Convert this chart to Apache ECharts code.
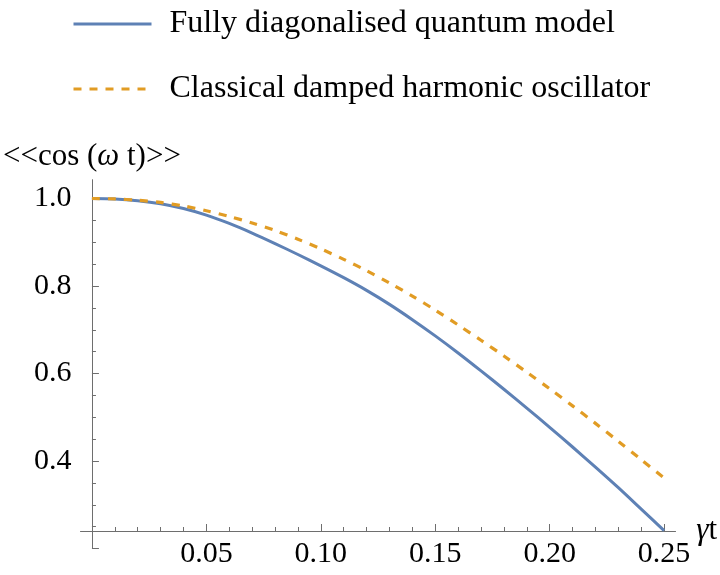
<!DOCTYPE html>
<html>
<head>
<meta charset="utf-8">
<script src="https://cdn.jsdelivr.net/npm/echarts@6/dist/echarts.min.js"></script>
<style>
html,body{margin:0;padding:0;background:#fff;}
#chart{width:720px;height:575px;}
</style>
</head>
<body>
<div id="chart"></div>
<script>
// ---- data ----
const gammaT = [0, 0.01, 0.02, 0.03, 0.04, 0.05, 0.06, 0.07, 0.08, 0.09, 0.10, 0.11, 0.12,
                0.13, 0.14, 0.15, 0.16, 0.17, 0.18, 0.19, 0.20, 0.21, 0.22, 0.23, 0.24, 0.25];
const quantumModel = [1.000, 0.999, 0.995, 0.988, 0.977, 0.962, 0.943, 0.921, 0.897, 0.872, 0.846, 0.819, 0.790,
                      0.758, 0.723, 0.686, 0.647, 0.606, 0.564, 0.521, 0.477, 0.432, 0.386, 0.339, 0.290, 0.241];
const classicalOscillator = [1.000, 0.999, 0.996, 0.991, 0.983, 0.972, 0.959, 0.944, 0.927, 0.907, 0.885, 0.861, 0.835,
                             0.807, 0.777, 0.745, 0.711, 0.676, 0.640, 0.603, 0.565, 0.526, 0.486, 0.445, 0.403, 0.361];
const seriesNames = ['Fully diagonalised quantum model', 'Classical damped harmonic oscillator'];
const xMajorTicks = [0.05, 0.10, 0.15, 0.20, 0.25];
const xMinorTicks = [0.01, 0.02, 0.03, 0.04, 0.06, 0.07, 0.08, 0.09, 0.11, 0.12, 0.13, 0.14,
                     0.16, 0.17, 0.18, 0.19, 0.21, 0.22, 0.23, 0.24];
const yMajorTicks = [0.2, 0.4, 0.6, 0.8, 1.0];
const yLabelTicks = [0.4, 0.6, 0.8, 1.0];
const yMinorTicks = [0.25, 0.3, 0.35, 0.45, 0.5, 0.55, 0.65, 0.7, 0.75, 0.85, 0.9, 0.95];

// ---- chart ----
const FONT = "'Liberation Serif', 'Times New Roman', 'DejaVu Serif', serif";
const AXIS_COLOR = '#6e6e6e';
const BLUE = '#5e81b5';
const ORANGE = '#e19c24';

const X_MIN = -0.005, X_MAX = 0.255;
const Y_MIN = 0.2, Y_MAX = 1.043;
const Y_CROSS = 0.24;
const gridTop = 179.7, gridBottomPx = 548.5;
const pxPerY = (gridBottomPx - gridTop) / (Y_MAX - Y_MIN);
const xAxisOffset = -(Y_CROSS - Y_MIN) * pxPerY;

const chart = echarts.init(document.getElementById('chart'), null, {renderer: 'canvas'});

function baseX(extra) {
  return Object.assign({
    type: 'value', gridIndex: 0, position: 'bottom', min: X_MIN, max: X_MAX,
    offset: xAxisOffset, splitLine: {show: false}
  }, extra);
}
function baseY(extra) {
  return Object.assign({
    type: 'value', gridIndex: 0, position: 'left', min: Y_MIN, max: Y_MAX,
    splitLine: {show: false}
  }, extra);
}

const option = {
  backgroundColor: '#fff',
  animation: false,
  textStyle: {fontFamily: FONT},
  grid: {left: 80.5, right: 39.9, top: gridTop, bottom: 575 - gridBottomPx, containLabel: false},
  legend: {
    orient: 'vertical', left: 72, top: 8, padding: 0,
    itemWidth: 78, itemHeight: 14, itemGap: 33,
    itemStyle: {color: 'rgba(0,0,0,0)', borderWidth: 0, opacity: 0},
    lineStyle: {width: 3},
    textStyle: {fontFamily: FONT, fontSize: 32, color: '#000', padding: [0, 0, 0, 13]},
    data: [{name: seriesNames[0]}, {name: seriesNames[1]}]
  },
  xAxis: [
    baseX({
      name: '{g|γ}{t|t}', nameLocation: 'end', nameGap: 17,
      nameTextStyle: {
        rich: {
          g: {fontFamily: FONT, fontSize: 31, fontStyle: 'italic', color: '#000'},
          t: {fontFamily: FONT, fontSize: 31, color: '#000'}
        }
      },
      axisLine: {show: true, onZero: false, lineStyle: {color: AXIS_COLOR, width: 1}},
      axisTick: {show: true, inside: true, length: 7, customValues: xMajorTicks, lineStyle: {color: AXIS_COLOR, width: 1}},
      axisLabel: {
        show: true, margin: 8, customValues: xMajorTicks, color: '#000', fontFamily: FONT, fontSize: 30,
        formatter: v => v.toFixed(2)
      }
    }),
    baseX({
      axisLine: {show: false, onZero: false},
      axisTick: {show: true, inside: true, length: 4, customValues: xMinorTicks, lineStyle: {color: AXIS_COLOR, width: 1}},
      axisLabel: {show: false}
    })
  ],
  yAxis: [
    baseY({
      name: '{a|<<cos (}{w|ω}{a| t)>>}', nameLocation: 'end', nameGap: 7,
      nameTextStyle: {
        rich: {
          a: {fontFamily: FONT, fontSize: 31, color: '#000'},
          w: {fontFamily: FONT, fontSize: 31, fontStyle: 'italic', color: '#000'}
        }
      },
      axisLine: {show: true, onZero: true, onZeroAxisIndex: 0, lineStyle: {color: AXIS_COLOR, width: 1}},
      axisTick: {show: true, inside: true, length: 7, customValues: yMajorTicks, lineStyle: {color: AXIS_COLOR, width: 1}},
      axisLabel: {
        show: true, margin: 9, customValues: yLabelTicks, color: '#000', fontFamily: FONT, fontSize: 30,
        formatter: v => v.toFixed(1)
      }
    }),
    baseY({
      axisLine: {show: false, onZero: true, onZeroAxisIndex: 0},
      axisTick: {show: true, inside: true, length: 4, customValues: yMinorTicks, lineStyle: {color: AXIS_COLOR, width: 1}},
      axisLabel: {show: false}
    })
  ],
  series: [
    {
      name: seriesNames[0], type: 'line', xAxisIndex: 0, yAxisIndex: 0,
      data: gammaT.map((t, i) => [t, quantumModel[i]]),
      showSymbol: false, symbol: 'none', smooth: 0.3,
      lineStyle: {color: BLUE, width: 3}, itemStyle: {color: BLUE}, z: 3
    },
    {
      name: seriesNames[1], type: 'line', xAxisIndex: 0, yAxisIndex: 0,
      data: gammaT.map((t, i) => [t, classicalOscillator[i]]),
      showSymbol: false, symbol: 'none', smooth: 0.3,
      lineStyle: {color: ORANGE, width: 3.2, type: [8, 8]}, itemStyle: {color: ORANGE}, z: 4
    }
  ]
};
chart.setOption(option);
</script>
</body>
</html>
